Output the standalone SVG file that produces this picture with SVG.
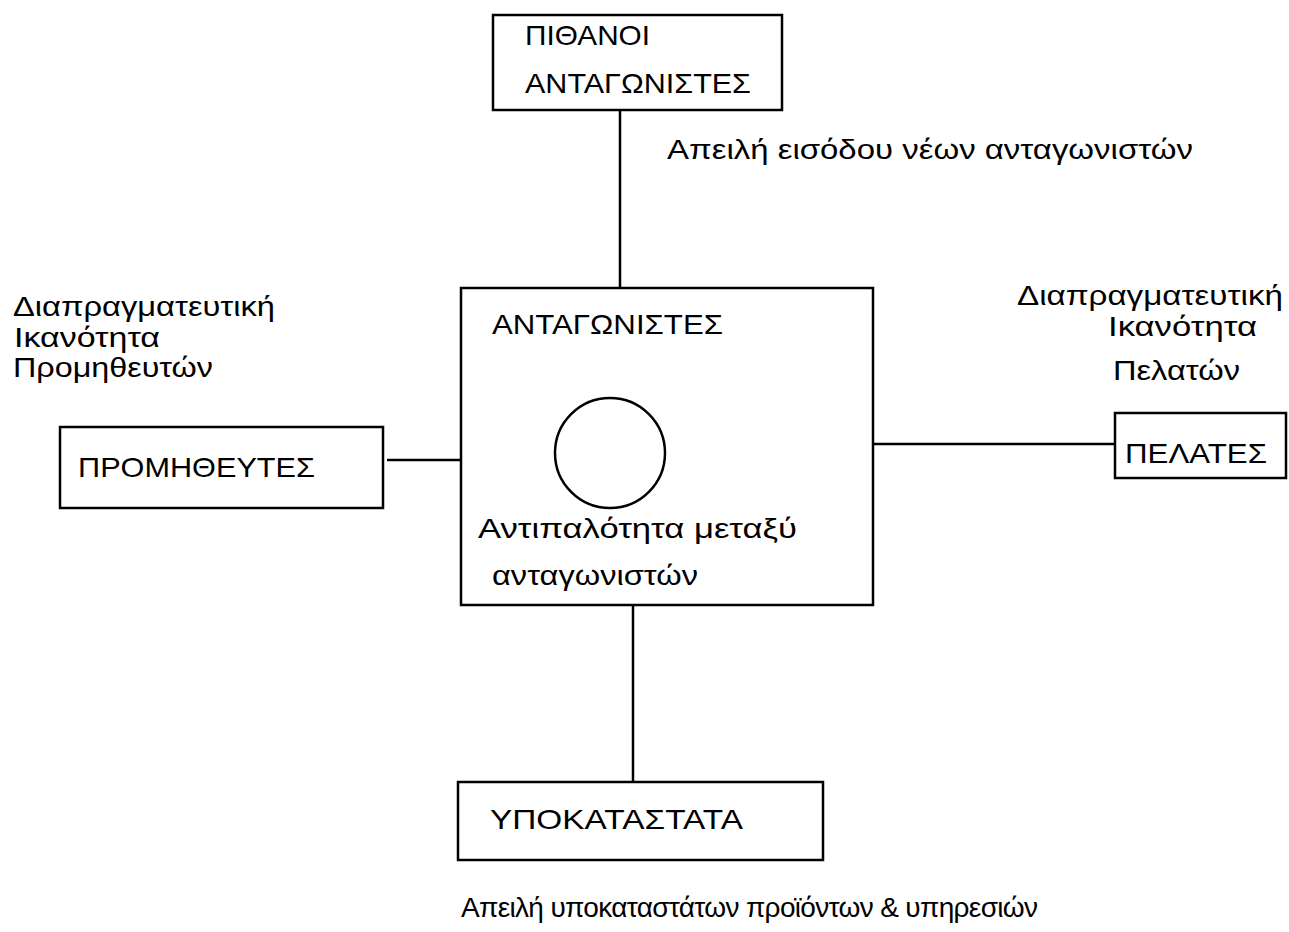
<svg xmlns="http://www.w3.org/2000/svg" width="1289" height="932" viewBox="0 0 1289 932">
<style>
.box{fill:#fff;stroke:#000;stroke-width:2.5}
.ln{stroke:#000;stroke-width:2.5;fill:none}
text{font-family:"Liberation Sans",Arial,sans-serif;font-size:28px;fill:#000}
</style>
<rect width="1289" height="932" fill="#fff"/>
<g id="connectors">
<line class="ln" x1="620" y1="110" x2="620" y2="288"/>
<line class="ln" x1="387" y1="460" x2="461" y2="460"/>
<line class="ln" x1="873" y1="444" x2="1115" y2="444"/>
<line class="ln" x1="633" y1="605" x2="633" y2="782"/>
</g>
<g id="potential">
<rect class="box" x="493" y="15" width="289" height="95"/>
<text x="525" y="45" textLength="125" lengthAdjust="spacingAndGlyphs">ΠΙΘΑΝΟΙ</text>
<text x="525" y="93" textLength="226" lengthAdjust="spacingAndGlyphs">ΑΝΤΑΓΩΝΙΣΤΕΣ</text>
</g>
<g id="label-entry"><text x="667" y="159" textLength="526" lengthAdjust="spacingAndGlyphs">Απειλή εισόδου νέων ανταγωνιστών</text></g>
<g id="competitors">
<rect class="box" x="461" y="288" width="412" height="317"/>
<text x="492" y="334" textLength="231" lengthAdjust="spacingAndGlyphs">ΑΝΤΑΓΩΝΙΣΤΕΣ</text>
<circle class="ln" cx="610" cy="453" r="55"/>
<text x="478" y="538" textLength="319" lengthAdjust="spacingAndGlyphs">Αντιπαλότητα μεταξύ</text>
<text x="492" y="585" textLength="206" lengthAdjust="spacingAndGlyphs">ανταγωνιστών</text>
</g>
<g id="label-suppliers">
<text x="13" y="316" textLength="262" lengthAdjust="spacingAndGlyphs">Διαπραγματευτική</text>
<text x="14" y="347" textLength="146" lengthAdjust="spacingAndGlyphs">Ικανότητα</text>
<text x="13" y="377" textLength="200" lengthAdjust="spacingAndGlyphs">Προμηθευτών</text>
</g>
<g id="suppliers">
<rect class="box" x="60" y="427" width="323" height="81"/>
<text x="78" y="477" textLength="237" lengthAdjust="spacingAndGlyphs">ΠΡΟΜΗΘΕΥΤΕΣ</text>
</g>
<g id="label-customers">
<text x="1017" y="305" textLength="266" lengthAdjust="spacingAndGlyphs">Διαπραγματευτική</text>
<text x="1108" y="336" textLength="149" lengthAdjust="spacingAndGlyphs">Ικανότητα</text>
<text x="1113" y="380" textLength="127" lengthAdjust="spacingAndGlyphs">Πελατών</text>
</g>
<g id="customers">
<rect class="box" x="1115" y="413" width="171" height="65"/>
<text x="1125" y="463" textLength="142" lengthAdjust="spacingAndGlyphs">ΠΕΛΑΤΕΣ</text>
</g>
<g id="substitutes">
<rect class="box" x="458" y="782" width="365" height="78"/>
<text x="490" y="829" textLength="253" lengthAdjust="spacingAndGlyphs">ΥΠΟΚΑΤΑΣΤΑΤΑ</text>
</g>
<g id="label-substitutes"><text x="461" y="917" font-size="28" textLength="577" lengthAdjust="spacing">Απειλή υποκαταστάτων προϊόντων &amp; υπηρεσιών</text></g>
</svg>
